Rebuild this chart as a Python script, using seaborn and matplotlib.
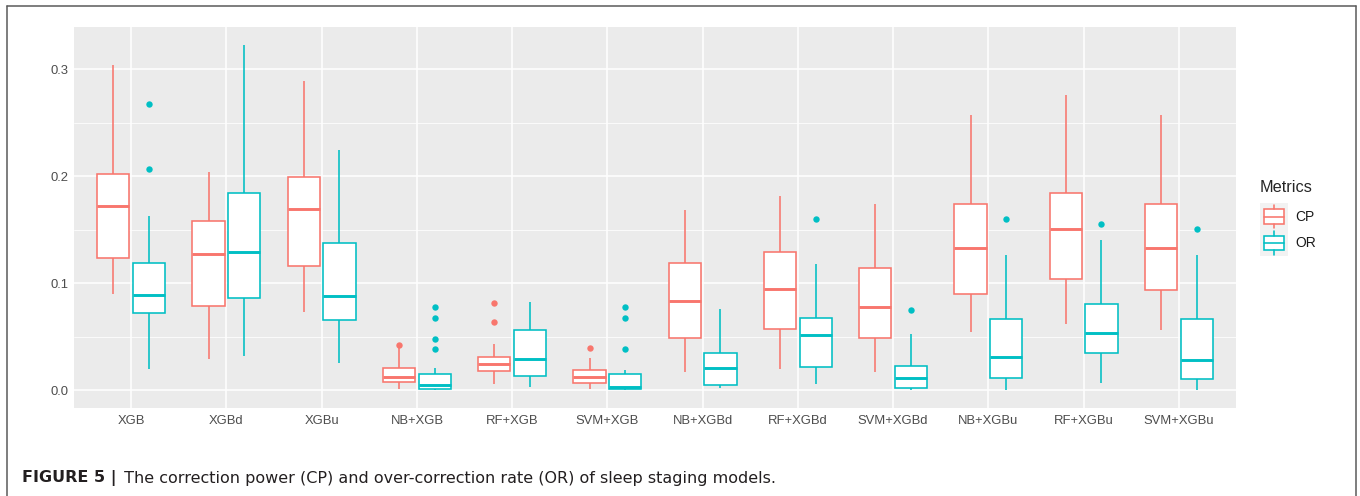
import numpy as np
import pandas as pd
import matplotlib
matplotlib.use("Agg")
import matplotlib.pyplot as plt
import seaborn as sns
from matplotlib.legend_handler import HandlerBase
from matplotlib.patches import Rectangle, Patch
from matplotlib.lines import Line2D

# ---------------- data (five-number summaries) ----------------
models = ["XGB", "XGBd", "XGBu", "NB+XGB", "RF+XGB", "SVM+XGB",
          "NB+XGBd", "RF+XGBd", "SVM+XGBd", "NB+XGBu", "RF+XGBu", "SVM+XGBu"]
metrics = ["CP", "OR"]

cp_lo  = [0.090, 0.0295, 0.073, 0.0010, 0.0056, 0.0010, 0.0174, 0.0202, 0.0174, 0.0548, 0.0617, 0.0561]
cp_q1  = [0.124, 0.0790, 0.116, 0.0075, 0.0183, 0.0065, 0.0489, 0.0573, 0.0489, 0.0903, 0.1037, 0.0937]
cp_med = [0.1725, 0.127, 0.169, 0.0127, 0.0246, 0.0127, 0.0837, 0.0950, 0.0778, 0.1333, 0.1510, 0.1333]
cp_q3  = [0.202, 0.158, 0.1996, 0.0205, 0.0314, 0.0190, 0.1187, 0.1296, 0.1140, 0.1738, 0.1841, 0.1738]
cp_hi  = [0.304, 0.204, 0.289, 0.0392, 0.0430, 0.0305, 0.1685, 0.1816, 0.1740, 0.2573, 0.2763, 0.2573]
cp_out = {"NB+XGB": [0.0423], "RF+XGB": [0.0638, 0.0813], "SVM+XGB": [0.0392]}

or_lo  = [0.020, 0.0318, 0.0258, 0.0003, 0.0034, 0.0003, 0.0019, 0.0056, 0.0003, 0.0003, 0.0065, 0.0003]
or_q1  = [0.0725, 0.0866, 0.0657, 0.0015, 0.0134, 0.0012, 0.0050, 0.0215, 0.0019, 0.0112, 0.0349, 0.0106]
or_med = [0.0894, 0.1295, 0.0884, 0.0050, 0.0290, 0.0034, 0.0205, 0.0514, 0.0112, 0.0311, 0.0533, 0.0286]
or_q3  = [0.119, 0.184, 0.1377, 0.0150, 0.0564, 0.0150, 0.0352, 0.0673, 0.0227, 0.0663, 0.0804, 0.0663]
or_hi  = [0.163, 0.323, 0.225, 0.0205, 0.0828, 0.0190, 0.0757, 0.1178, 0.0523, 0.1264, 0.1405, 0.1264]
or_out = {"XGB": [0.2065, 0.268], "NB+XGB": [0.0383, 0.0482, 0.0676, 0.0776],
          "SVM+XGB": [0.0383, 0.0676, 0.0776], "RF+XGBd": [0.1598], "SVM+XGBd": [0.0748],
          "NB+XGBu": [0.160], "RF+XGBu": [0.1557], "SVM+XGBu": [0.1507]}

y_ticks = [0.0, 0.1, 0.2, 0.3]
y_ticklabels = ["0.0", "0.1", "0.2", "0.3"]
palette = {"CP": "#F8766D", "OR": "#00BFC4"}
caption_bold = "FIGURE 5 |"
caption_text = " The correction power (CP) and over-correction rate (OR) of sleep staging models."


def table_from_summary(lo, q1, med, q3, hi, outs, m=12):
    """Sample table whose box statistics reproduce the read summary."""
    low = sorted(o for o in outs if o < q1)
    high = sorted(o for o in outs if o > q3)
    below = low + [lo] + [q1] * (m - 1 - len(low))
    above = [q3] * (m - 1 - len(high)) + [hi] + high
    return below + [med] + above


rows = []
for metric, lo, q1, med, q3, hi, outs in [
        ("CP", cp_lo, cp_q1, cp_med, cp_q3, cp_hi, cp_out),
        ("OR", or_lo, or_q1, or_med, or_q3, or_hi, or_out)]:
    for i, name in enumerate(models):
        for v in table_from_summary(lo[i], q1[i], med[i], q3[i], hi[i], outs.get(name, [])):
            rows.append((name, metric, v))
df = pd.DataFrame(rows, columns=["Model", "Metrics", "value"])

# ---------------- style ----------------
sns.set_theme(style="darkgrid")
plt.rcParams["font.family"] = ["Liberation Sans", "DejaVu Sans"]

W, H = 1360, 496
fig = plt.figure(figsize=(W / 100, H / 100), dpi=100)
fig.patch.set_facecolor("white")
ax = fig.add_axes([74 / W, 1 - 407.7 / H, (1236 - 74) / W, (407.7 - 26.7) / H])
ax.set_facecolor("#EBEBEB")

sns.boxplot(data=df, x="Model", y="value", hue="Metrics", order=models, hue_order=metrics,
            palette=palette, saturation=1, width=0.75, gap=0.1, linewidth=1.1, whis=1.5,
            showcaps=False, legend=False, ax=ax)

lw = 1.15
for c in ax.containers:
    if not hasattr(c, "boxes"):
        continue
    col = c.boxes[0].get_facecolor()
    for b in c.boxes:
        b.set_facecolor("white")
        b.set_edgecolor(col)
        b.set_linewidth(lw)
        b.set_zorder(2)
    for ln in c.medians:
        ln.set_color(col)
        ln.set_linewidth(2.1)
        ln.set_solid_capstyle("butt")
    for ln in c.whiskers:
        ln.set_color(col)
        ln.set_linewidth(lw)
    for ln in c.caps:
        ln.set_visible(False)
    for ln in c.fliers:
        ln.set_marker("o")
        ln.set_markersize(4.6)
        ln.set_markerfacecolor(col)
        ln.set_markeredgecolor(col)
        ln.set_markeredgewidth(0)

ax.set_xlim(-0.6, len(models) - 0.4)
ax.set_ylim(-0.0163, 0.3398)
ax.set_yticks(y_ticks)
ax.set_yticklabels(y_ticklabels)
ax.set_yticks([0.05, 0.15, 0.25], minor=True)
ax.set_xlabel("")
ax.set_ylabel("")
ax.grid(which="major", color="white", linewidth=1.1)
ax.grid(which="minor", axis="y", color="white", linewidth=0.55)
ax.set_axisbelow(True)
for s in ax.spines.values():
    s.set_visible(False)
ax.tick_params(which="major", length=2.6, width=0.8, color="#333333", labelcolor="#4D4D4D",
               labelsize=9.4, direction="out")
ax.tick_params(axis="x", pad=3.0)
ax.tick_params(axis="y", pad=1.2)
ax.tick_params(which="minor", length=0)


# ---------------- legend with boxplot keys ----------------
class BoxKey(HandlerBase):
    def create_artists(self, legend, orig_handle, xdescent, ydescent, width, height,
                       fontsize, trans):
        col = orig_handle.get_edgecolor()
        x0, y0 = -xdescent, -ydescent
        bg = Rectangle((x0, y0), width, height, facecolor="#F2F2F2", edgecolor="none",
                       transform=trans)
        bw, bh = width * 0.74, height * 0.56
        bx, by = x0 + (width - bw) / 2, y0 + (height - bh) / 2
        box = Rectangle((bx, by), bw, bh, facecolor="white", edgecolor=col, lw=lw,
                        transform=trans)
        cx, cy = x0 + width / 2, y0 + height / 2
        med = Line2D([bx, bx + bw], [cy, cy], color=col, lw=lw, transform=trans)
        w1 = Line2D([cx, cx], [by + bh, y0 + height * 0.94], color=col, lw=lw, transform=trans)
        w2 = Line2D([cx, cx], [y0 + height * 0.06, by], color=col, lw=lw, transform=trans)
        return [bg, box, med, w1, w2]


handles = [Patch(facecolor="white", edgecolor=palette[m]) for m in metrics]
leg = fig.legend(handles, metrics, title="Metrics", loc="upper left",
                 bbox_to_anchor=(1260 / W, 1 - 180 / H), frameon=False,
                 fontsize=10, title_fontsize=11.7, handlelength=2.0, handleheight=2.55,
                 labelspacing=0, handletextpad=0.55, borderpad=0, borderaxespad=0,
                 handler_map={Patch: BoxKey()})
leg._legend_box.align = "left"
leg._legend_box.sep = 6
for t in leg.get_texts():
    t.set_color("#1A1A1A")

# ---------------- caption and frame ----------------
t1 = fig.text(22 / W, 1 - 482 / H, caption_bold, fontsize=11.5, fontweight="bold",
              family=["DejaVu Sans"], color="#231F20", ha="left", va="baseline")
ax.annotate(caption_text, xy=(1, 0), xycoords=t1, xytext=(2, 0), textcoords="offset points",
            fontsize=11.5, family=["DejaVu Sans"], color="#231F20", ha="left", va="bottom",
            annotation_clip=False)

fc = "#5A5A5A"
fig.add_artist(Line2D([7 / W, 7 / W], [0, 1 - 6 / H], transform=fig.transFigure, color=fc, lw=1.1))
fig.add_artist(Line2D([7 / W, 1356 / W], [1 - 6 / H, 1 - 6 / H], transform=fig.transFigure, color=fc, lw=1.1))
fig.add_artist(Line2D([1356 / W, 1356 / W], [0, 1 - 6 / H], transform=fig.transFigure, color=fc, lw=1.1))

fig.savefig("out.png", dpi=100)
